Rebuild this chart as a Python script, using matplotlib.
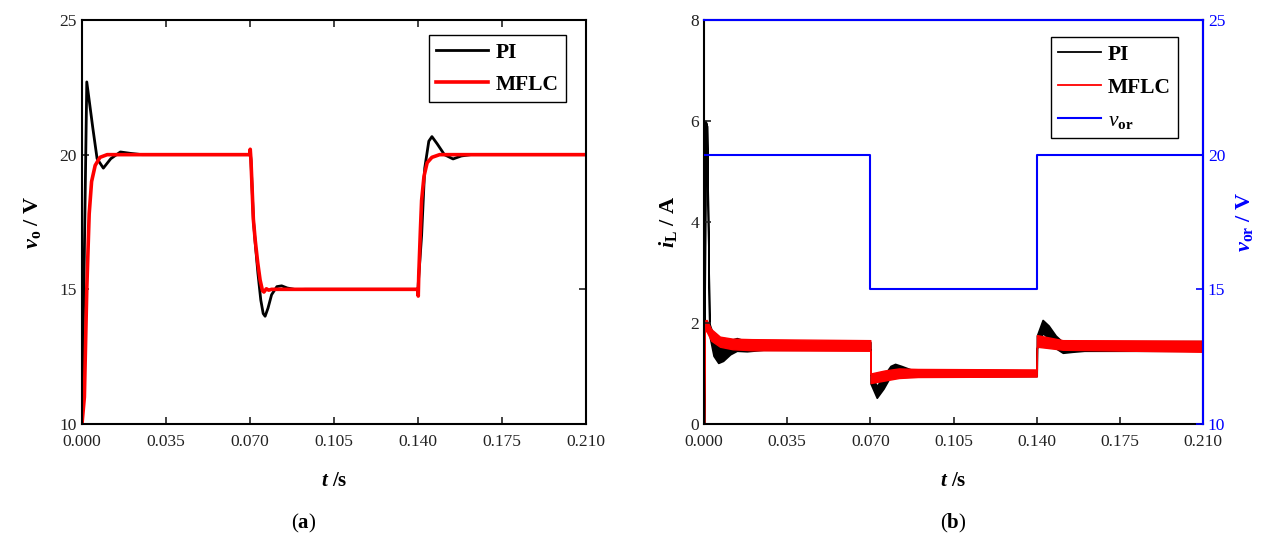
import numpy as np
import matplotlib
matplotlib.use('Agg')
import matplotlib.pyplot as plt

# ---- output voltage (a) ----
t_pi_v = [0, 0.0003, 0.002, 0.0045, 0.0063, 0.0089, 0.012, 0.016, 0.02, 0.025,
          0.07, 0.0701, 0.0704, 0.0714, 0.0722, 0.0733, 0.0745, 0.0755, 0.0763, 0.0775,
          0.079, 0.0812, 0.0832, 0.0855, 0.089, 0.093,
          0.14, 0.1401, 0.1415, 0.1428, 0.1445, 0.1458, 0.148, 0.151, 0.1546, 0.158, 0.162, 0.21]
v_pi = [10, 12, 22.7, 21.0, 19.85, 19.5, 19.85, 20.1, 20.05, 20.0,
        20.0, 20.1, 19.8, 17.6, 16.7, 15.6, 14.6, 14.1, 14.0, 14.3,
        14.8, 15.1, 15.13, 15.05, 14.99, 15.0,
        15.0, 15.2, 17.0, 19.5, 20.5, 20.67, 20.4, 20.0, 19.84, 19.95, 20.0, 20.0]

t_mf_v = [0, 0.001, 0.002, 0.003, 0.004, 0.0055, 0.0075, 0.0105, 0.015,
          0.07, 0.0701, 0.0704, 0.0714, 0.0722, 0.0732, 0.0742, 0.0752, 0.0758, 0.0768, 0.0778, 0.079,
          0.14, 0.1401, 0.1403, 0.141, 0.1415, 0.1425, 0.1438, 0.1458, 0.149, 0.21]
v_mf = [10, 11, 15, 17.8, 19.0, 19.6, 19.9, 20.0, 20.0,
        20.0, 20.2, 19.8, 17.6, 16.8, 16.0, 15.35, 14.95, 14.9, 15.02, 14.97, 15.0,
        15.0, 14.75, 15.5, 17.2, 18.3, 19.2, 19.7, 19.9, 20.0, 20.0]

# ---- inductor current (b): ripple band envelopes ----
t_pi_i = [0, 0.0006, 0.0012, 0.0022, 0.0025, 0.004, 0.006, 0.008, 0.011, 0.0138, 0.018, 0.025,
          0.07, 0.0701, 0.0727, 0.0755, 0.0785, 0.0804, 0.083, 0.087,
          0.14, 0.1401, 0.1425, 0.145, 0.148, 0.151, 0.155, 0.16, 0.21]
i_pi_lo = [0, 6.0, 5.9, 2.0, 1.70, 1.35, 1.21, 1.25, 1.38, 1.45, 1.44, 1.47,
           1.47, 0.80, 0.52, 0.70, 0.95, 1.00, 0.97, 0.94,
           0.95, 1.50, 1.80, 1.70, 1.50, 1.41, 1.43, 1.45, 1.45]
i_pi_hi = [0, 6.0, 5.9, 2.0, 1.95, 1.75, 1.65, 1.60, 1.66, 1.70, 1.64, 1.62,
           1.62, 1.00, 0.75, 0.95, 1.15, 1.19, 1.15, 1.08,
           1.06, 1.75, 2.06, 1.95, 1.75, 1.62, 1.63, 1.64, 1.64]

t_mf_i = [0, 0.0002, 0.0003, 0.0011, 0.003, 0.0067, 0.012, 0.02,
          0.07, 0.0701, 0.076, 0.082, 0.09,
          0.14, 0.1401, 0.151, 0.21]
i_mf_lo = [0, 2.0, 1.85, 1.83, 1.65, 1.53, 1.48, 1.46,
           1.45, 0.81, 0.86, 0.91, 0.93,
           0.94, 1.53, 1.47, 1.43]
i_mf_hi = [0, 2.0, 2.05, 2.06, 1.88, 1.73, 1.69, 1.68,
           1.66, 1.00, 1.06, 1.10, 1.09,
           1.08, 1.76, 1.66, 1.65]

t_ref = [0, 0.07, 0.07, 0.14, 0.14, 0.21]
v_ref = [20, 20, 15, 15, 20, 20]

xticks = [0, 0.035, 0.07, 0.105, 0.14, 0.175, 0.21]

plt.rcParams['font.family'] = ['Liberation Serif', 'DejaVu Serif']
plt.rcParams['mathtext.fontset'] = 'custom'
plt.rcParams['mathtext.rm'] = 'Liberation Serif'
plt.rcParams['mathtext.it'] = 'Liberation Serif:italic'
plt.rcParams['mathtext.bf'] = 'Liberation Serif:bold'
plt.rcParams['mathtext.bfit'] = 'Liberation Serif:italic:bold'

fig = plt.figure(figsize=(12.69, 5.49), dpi=100)
ax1 = fig.add_axes([0.0646, 0.2277, 0.3972, 0.7359])
ax2 = fig.add_axes([0.5548, 0.2277, 0.3932, 0.7359])


def style(ax):
    for s in ax.spines.values():
        s.set_linewidth(1.5)
    ax.tick_params(direction='in', length=5, width=1.2, labelsize=12.5, colors='#222222')
    ax.tick_params(axis='x', pad=7)
    ax.set_xlim(0, 0.21)
    ax.set_xticks(xticks)
    ax.set_xticklabels([f'{x:.3f}' for x in xticks])
    ax.set_xlabel(r'$\mathbfit{t}$ /s', fontsize=15, fontweight='bold', labelpad=15)


# (a)
ax1.plot(t_pi_v, v_pi, color='black', lw=2, label='PI')
ax1.plot(t_mf_v, v_mf, color='red', lw=2.6, label='MFLC')
ax1.set_ylim(10, 25)
ax1.set_yticks([10, 15, 20, 25])
style(ax1)
ax1.tick_params(top=True, right=True)
ax1.set_ylabel(r'$\mathbfit{v}_\mathbf{o}$ / V', fontsize=16, fontweight='bold', labelpad=12)
leg1 = ax1.legend(loc='upper right', fancybox=False, edgecolor='black', framealpha=1,
                  prop={'size': 15.5, 'weight': 'bold'}, handlelength=2.4, handletextpad=0.35,
                  labelspacing=0.55, borderpad=0.35, borderaxespad=0.7, bbox_to_anchor=(0.99, 1.0))
leg1.get_frame().set_linewidth(1.0)
fig.text(0.2395, 0.047, r'($\mathbf{a}$)', ha='center', va='center', fontsize=15)

# (b)
ax2.fill_between(t_pi_i, i_pi_lo, i_pi_hi, color='black', edgecolor='black', lw=1.2)
ax2.fill_between(t_mf_i, i_mf_lo, i_mf_hi, color='red', edgecolor='red', lw=1.0)
ax2.plot([], [], color='black', lw=1.3, label='PI')
ax2.plot([], [], color='red', lw=1.3, label='MFLC')
ax2.set_ylim(0, 8)
ax2.set_yticks([0, 2, 4, 6, 8])
style(ax2)
ax2.set_ylabel(r'$\mathbfit{i}_\mathbf{L}$ / A', fontsize=16, fontweight='bold', labelpad=8)

ax3 = ax2.twinx()
ax3.plot(t_ref, v_ref, color='blue', lw=1.5, label=r'$\mathit{v}_\mathbf{or}$')
ax3.set_ylim(10, 25)
ax3.set_yticks([10, 15, 20, 25])
ax3.set_xlim(0, 0.21)
for s in ax3.spines.values():
    s.set_linewidth(1.5)
ax3.spines['right'].set_color('blue')
ax3.spines['top'].set_color('blue')
ax3.spines['left'].set_visible(False)
ax3.spines['bottom'].set_visible(False)
ax3.tick_params(axis='y', direction='in', length=5, width=1.2, labelsize=12.5, colors='blue')
ax3.set_ylabel(r'$\mathbfit{v}_\mathbf{or}$ / V', fontsize=16, fontweight='bold', color='blue', labelpad=6)

h2, l2 = ax2.get_legend_handles_labels()
h3, l3 = ax3.get_legend_handles_labels()
leg2 = ax3.legend(h2 + h3, l2 + l3, loc='upper right', fancybox=False, edgecolor='black', framealpha=1,
                  prop={'size': 15.5, 'weight': 'bold'}, handlelength=2.0, handletextpad=0.3,
                  labelspacing=0.6, borderpad=0.35, borderaxespad=0.8, bbox_to_anchor=(0.985, 1.0))
leg2.get_frame().set_linewidth(1.0)
fig.text(0.7514, 0.047, r'($\mathbf{b}$)', ha='center', va='center', fontsize=15)

fig.savefig('out.png', dpi=100)
